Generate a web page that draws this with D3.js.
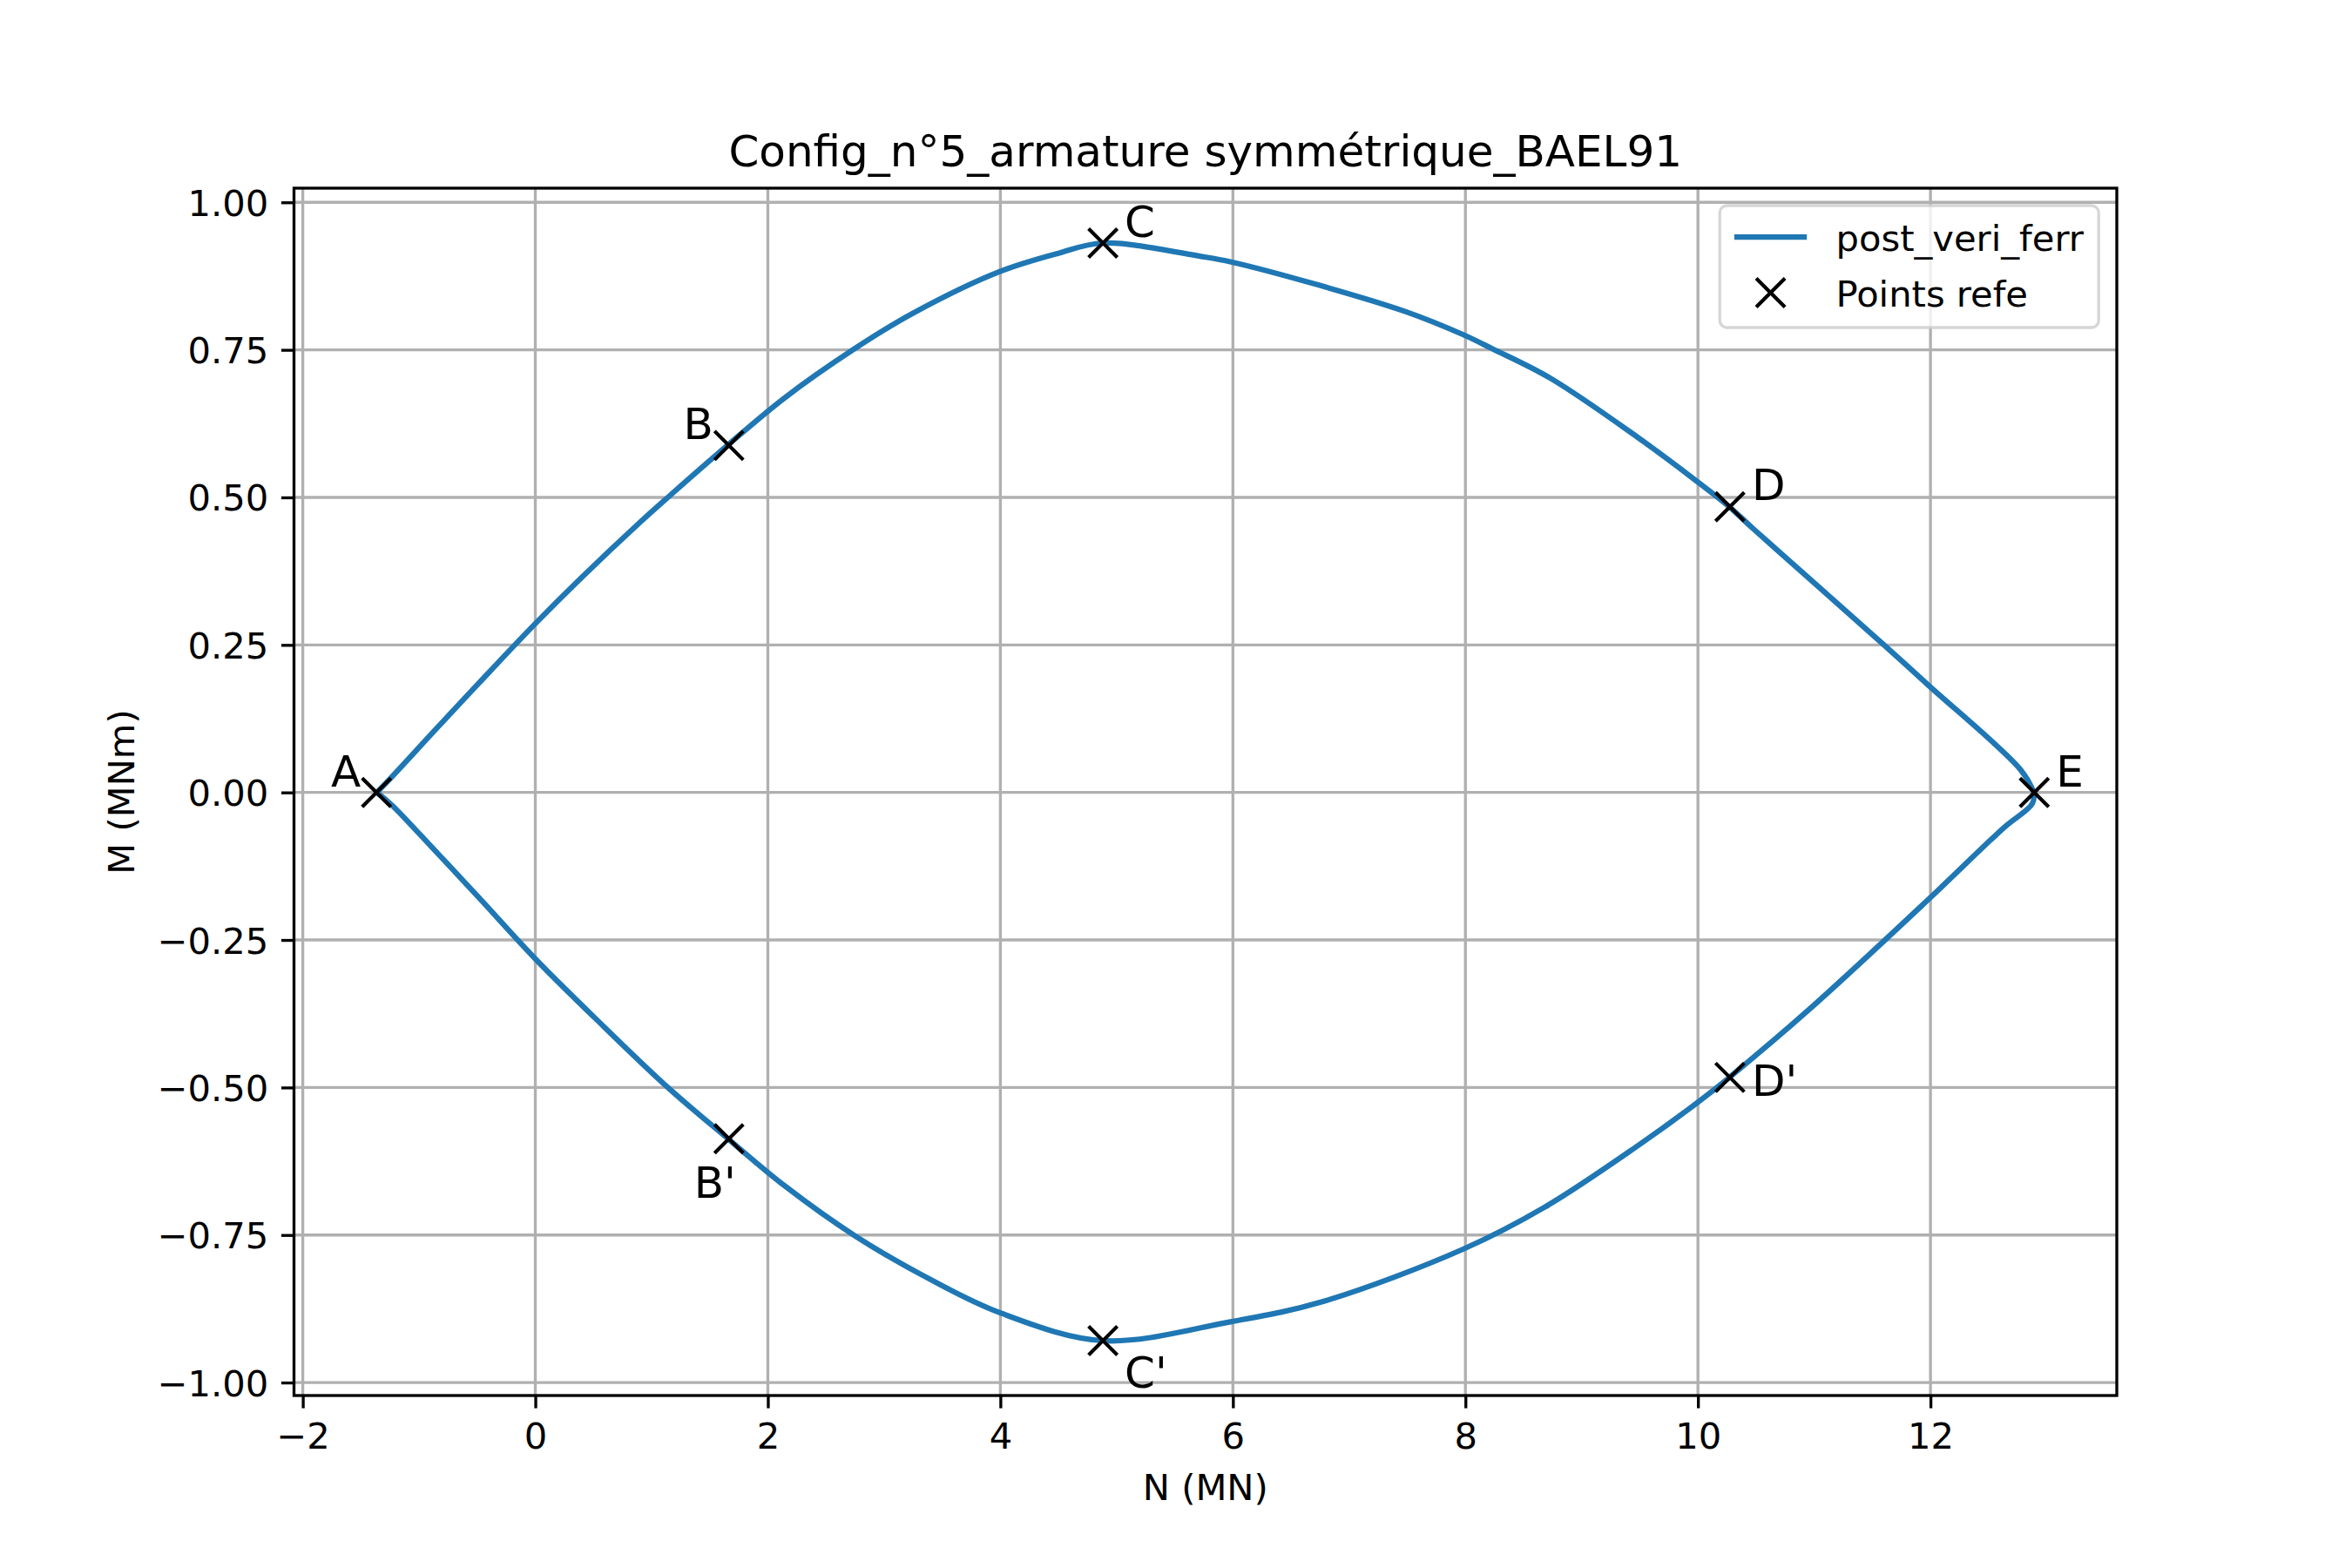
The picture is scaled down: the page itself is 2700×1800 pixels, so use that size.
<!DOCTYPE html>
<html>
<head>
<meta charset="utf-8">
<script src="https://cdn.jsdelivr.net/npm/d3@7"></script>
<style>
  body { margin: 0; background: #fff; }
  svg { display: block; font-family: "DejaVu Sans", sans-serif; }
</style>
</head>
<body>
<div id="chart"></div>
<script>
// upper branch of the interaction curve, A -> E
const upperN = [-1.363, -1.236, -0.856, -0.482, 0.000, 0.392, 0.891, 1.140, 1.658, 2.140, 2.739, 3.239,
    3.987, 4.487, 4.882, 5.736, 5.985, 6.734, 7.483, 7.978, 8.230, 8.730, 9.480, 9.973, 10.270, 10.480,
    11.600, 11.980, 12.777, 12.890];
const upperM = [0.000, 0.026, 0.107, 0.186, 0.286, 0.363, 0.456, 0.500, 0.589, 0.668, 0.751, 0.811,
    0.882, 0.913, 0.931, 0.908, 0.899, 0.860, 0.815, 0.776, 0.752, 0.702, 0.602, 0.530, 0.484, 0.446,
    0.250, 0.182, 0.038, 0.000];
// lower branch, A -> E
const lowerN = [-1.363, -1.236, -0.856, -0.482, 0.000, 0.517, 1.140, 1.658, 2.140, 2.754, 3.423, 4.000,
    4.880, 5.980, 6.770, 7.980, 8.680, 9.480, 10.000, 10.270, 11.000, 12.000, 12.630, 12.876, 12.890];
const lowerM = [0.000, -0.021, -0.100, -0.179, -0.282, -0.383, -0.500, -0.587, -0.666, -0.752, -0.828, -0.882,
    -0.929, -0.897, -0.863, -0.774, -0.703, -0.599, -0.525, -0.483, -0.360, -0.178, -0.060, -0.019, 0.000];

// reference points
const refNames = ["A", "B", "C", "D", "E", "B'", "C'", "D'"];
const refN = [-1.366, 1.665, 4.882, 10.275, 12.893, 1.665, 4.882, 10.275];
const refM = [0.000, 0.588, 0.931, 0.484, 0.000, -0.587, -0.929, -0.483];

const xTicks = [-2, 0, 2, 4, 6, 8, 10, 12];
const yTicks = [-1.00, -0.75, -0.50, -0.25, 0.00, 0.25, 0.50, 0.75, 1.00];

const titleText = "Config_n°5_armature symmétrique_BAEL91";
const xLabel = "N (MN)";
const yLabel = "M (MNm)";
const legendLabels = ["post_veri_ferr", "Points refe"];

// label placement relative to each marker (px): [dx, dy, anchor]
const labelOffsets = [
    [-18, -7, "end"], [-18, -7, "end"], [25, -7, "start"], [25, -8, "start"],
    [25, -7, "start"], [-40, 68, "start"], [25, 54, "start"], [25, 21, "start"]
];

function createChart() {
    const W = 2700, H = 1800;
    const margin = { top: 216, right: 270, bottom: 198, left: 337.5 };
    const width = W - margin.left - margin.right;
    const height = H - margin.top - margin.bottom;
    const fs = 41.67;          // 10pt at 300 dpi
    const lw = 3.33;           // 0.8pt

    const svg = d3.select("#chart").append("svg")
        .attr("width", W)
        .attr("height", H);

    const g = svg.append("g")
        .attr("transform", `translate(${margin.left}, ${margin.top})`);

    const allN = upperN.concat(lowerN);
    const allM = upperM.concat(lowerM);
    const nMin = d3.min(allN), nMax = d3.max(allN);
    const mMin = d3.min(allM), mMax = d3.max(allM);
    const padN = (nMax - nMin) * 0.05, padM = (mMax - mMin) * 0.05;

    const x = d3.scaleLinear().domain([nMin - padN, nMax + padN]).range([0, width]);
    const y = d3.scaleLinear().domain([mMin - padM, mMax + padM]).range([height, 0]);

    const fmt = v => v.toString().replace("-", "\u2212");
    const fmtY = v => d3.format(".2f")(v).replace("-", "\u2212");

    // grid
    g.append("g").selectAll("line.vg").data(xTicks).enter().append("line")
        .attr("x1", d => x(d)).attr("x2", d => x(d))
        .attr("y1", 0).attr("y2", height)
        .attr("stroke", "#b0b0b0").attr("stroke-width", lw);
    g.append("g").selectAll("line.hg").data(yTicks).enter().append("line")
        .attr("x1", 0).attr("x2", width)
        .attr("y1", d => y(d)).attr("y2", d => y(d))
        .attr("stroke", "#b0b0b0").attr("stroke-width", lw);

    // axes
    const xAxis = d3.axisBottom(x).tickValues(xTicks).tickFormat(fmt)
        .tickSizeInner(14.6).tickSizeOuter(0).tickPadding(14.6);
    const yAxis = d3.axisLeft(y).tickValues(yTicks).tickFormat(fmtY)
        .tickSizeInner(14.6).tickSizeOuter(0).tickPadding(14.6);

    const gx = g.append("g").attr("transform", `translate(0, ${height})`).call(xAxis);
    const gy = g.append("g").call(yAxis);
    [gx, gy].forEach(a => {
        a.select(".domain").remove();
        a.selectAll(".tick line").attr("stroke", "#000").attr("stroke-width", lw);
        a.selectAll(".tick text").attr("fill", "#000")
            .style("font-size", fs + "px").style("font-family", "DejaVu Sans");
    });
    gx.selectAll(".tick text").attr("dy", "0.76em");
    gy.selectAll(".tick text").attr("dy", "0.36em");

    // curve, one smoothed path per branch
    const line = d3.line().x(d => x(d[0])).y(d => y(d[1]))
        .curve(d3.curveCatmullRom.alpha(0.5));
    const branches = [
        upperN.map((n, i) => [n, upperM[i]]),
        lowerN.map((n, i) => [n, lowerM[i]])
    ];
    g.append("g").selectAll("path").data(branches).enter().append("path")
        .attr("d", line)
        .attr("fill", "none")
        .attr("stroke", "#1f77b4")
        .attr("stroke-width", 6.25)
        .attr("stroke-linejoin", "round");

    // reference markers
    const ms = 16.5;
    const refs = refNames.map((name, i) => ({ name, n: refN[i], m: refM[i], off: labelOffsets[i] }));
    const mk = g.append("g").selectAll("g.mk").data(refs).enter().append("g")
        .attr("transform", d => `translate(${x(d.n)}, ${y(d.m)})`);
    mk.append("path")
        .attr("d", `M${-ms},${-ms}L${ms},${ms}M${-ms},${ms}L${ms},${-ms}`)
        .attr("stroke", "#000").attr("stroke-width", 4.17).attr("fill", "none");

    g.append("g").selectAll("text").data(refs).enter().append("text")
        .attr("x", d => x(d.n) + d.off[0])
        .attr("y", d => y(d.m) + d.off[1])
        .attr("text-anchor", d => d.off[2])
        .style("font-size", "50px")
        .text(d => d.name);

    // spines
    g.append("rect")
        .attr("width", width).attr("height", height)
        .attr("fill", "none").attr("stroke", "#000").attr("stroke-width", lw);

    // legend
    const lgW = 435, lgH = 140;
    const legend = g.append("g")
        .attr("transform", `translate(${width - 20.8 - lgW}, 20)`);
    legend.append("rect")
        .attr("width", lgW).attr("height", lgH)
        .attr("rx", 8.3).attr("ry", 8.3)
        .attr("fill", "#fff").attr("fill-opacity", 0.8)
        .attr("stroke", "#cccccc").attr("stroke-opacity", 0.8).attr("stroke-width", lw);
    const row1 = 36, row2 = 100;
    legend.append("line")
        .attr("x1", 16.7).attr("x2", 16.7 + 83.3)
        .attr("y1", row1).attr("y2", row1)
        .attr("stroke", "#1f77b4").attr("stroke-width", 6.25);
    legend.append("path")
        .attr("transform", `translate(${16.7 + 41.65}, ${row2})`)
        .attr("d", `M${-ms},${-ms}L${ms},${ms}M${-ms},${ms}L${ms},${-ms}`)
        .attr("stroke", "#000").attr("stroke-width", 4.17);
    legend.selectAll("text.lg").data(legendLabels).enter().append("text")
        .attr("x", 16.7 + 83.3 + 33.3)
        .attr("y", (d, i) => (i === 0 ? row1 : row2) + 15.5)
        .style("font-size", fs + "px")
        .text(d => d);

    // title and axis labels
    svg.append("text")
        .attr("x", margin.left + width / 2)
        .attr("y", margin.top - 25)
        .attr("text-anchor", "middle")
        .style("font-size", "50px")
        .text(titleText);

    svg.append("text")
        .attr("x", margin.left + width / 2)
        .attr("y", 1721.6)
        .attr("text-anchor", "middle")
        .style("font-size", fs + "px")
        .text(xLabel);

    svg.append("text")
        .attr("transform", "rotate(-90)")
        .attr("x", -(margin.top + height / 2))
        .attr("y", 154)
        .attr("text-anchor", "middle")
        .style("font-size", fs + "px")
        .text(yLabel);
}

createChart();
</script>
</body>
</html>
